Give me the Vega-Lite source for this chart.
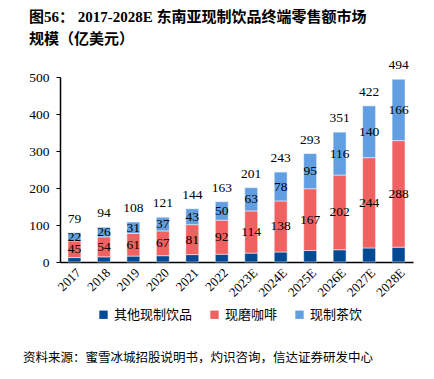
{
  "$schema": "https://vega.github.io/schema/vega-lite/v6.json",
  "background": "white",
  "padding": {"left": 23, "right": 9, "top": 10, "bottom": 5},
  "title": {
    "text": ["图56： 2017-2028E 东南亚现制饮品终端零售额市场", "规模（亿美元）"],
    "anchor": "start",
    "font": "Liberation Serif, Noto Sans CJK SC",
    "fontSize": 15,
    "fontWeight": "bold",
    "lineHeight": 22,
    "color": "#000000",
    "offset": 8,
    "dx": 6
  },
  "datasets": {
    "segments": [
      {"year": "2017", "type": "其他现制饮品", "value": 12},
      {"year": "2017", "type": "现磨咖啡", "value": 45},
      {"year": "2017", "type": "现制茶饮", "value": 22},
      {"year": "2018", "type": "其他现制饮品", "value": 14},
      {"year": "2018", "type": "现磨咖啡", "value": 54},
      {"year": "2018", "type": "现制茶饮", "value": 26},
      {"year": "2019", "type": "其他现制饮品", "value": 16},
      {"year": "2019", "type": "现磨咖啡", "value": 61},
      {"year": "2019", "type": "现制茶饮", "value": 31},
      {"year": "2020", "type": "其他现制饮品", "value": 17},
      {"year": "2020", "type": "现磨咖啡", "value": 67},
      {"year": "2020", "type": "现制茶饮", "value": 37},
      {"year": "2021", "type": "其他现制饮品", "value": 20},
      {"year": "2021", "type": "现磨咖啡", "value": 81},
      {"year": "2021", "type": "现制茶饮", "value": 43},
      {"year": "2022", "type": "其他现制饮品", "value": 21},
      {"year": "2022", "type": "现磨咖啡", "value": 92},
      {"year": "2022", "type": "现制茶饮", "value": 50},
      {"year": "2023E", "type": "其他现制饮品", "value": 24},
      {"year": "2023E", "type": "现磨咖啡", "value": 114},
      {"year": "2023E", "type": "现制茶饮", "value": 63},
      {"year": "2024E", "type": "其他现制饮品", "value": 27},
      {"year": "2024E", "type": "现磨咖啡", "value": 138},
      {"year": "2024E", "type": "现制茶饮", "value": 78},
      {"year": "2025E", "type": "其他现制饮品", "value": 31},
      {"year": "2025E", "type": "现磨咖啡", "value": 167},
      {"year": "2025E", "type": "现制茶饮", "value": 95},
      {"year": "2026E", "type": "其他现制饮品", "value": 33},
      {"year": "2026E", "type": "现磨咖啡", "value": 202},
      {"year": "2026E", "type": "现制茶饮", "value": 116},
      {"year": "2027E", "type": "其他现制饮品", "value": 38},
      {"year": "2027E", "type": "现磨咖啡", "value": 244},
      {"year": "2027E", "type": "现制茶饮", "value": 140},
      {"year": "2028E", "type": "其他现制饮品", "value": 40},
      {"year": "2028E", "type": "现磨咖啡", "value": 288},
      {"year": "2028E", "type": "现制茶饮", "value": 166}
    ],
    "totals": [
      {"year": "2017", "total": 79},
      {"year": "2018", "total": 94},
      {"year": "2019", "total": 108},
      {"year": "2020", "total": 121},
      {"year": "2021", "total": 144},
      {"year": "2022", "total": 163},
      {"year": "2023E", "total": 201},
      {"year": "2024E", "total": 243},
      {"year": "2025E", "total": 293},
      {"year": "2026E", "total": 351},
      {"year": "2027E", "total": 422},
      {"year": "2028E", "total": 494}
    ],
    "divider": [{"start": 0, "end": 1}]
  },
  "config": {
    "font": "Liberation Serif, Noto Sans CJK SC",
    "view": {"stroke": null},
    "axis": {
      "domain": true,
      "domainColor": "#000000",
      "domainWidth": 1.5,
      "grid": false,
      "labelFont": "Liberation Serif",
      "labelColor": "#000000",
      "title": null
    },
    "axisY": {
      "ticks": true,
      "tickColor": "#000000",
      "tickSize": 4,
      "labelFontSize": 13.5,
      "labelPadding": 7,
      "labelOverlap": false
    },
    "axisX": {
      "ticks": false,
      "labelAngle": -45,
      "labelFontSize": 13,
      "labelPadding": 4
    }
  },
  "spacing": 1,
  "resolve": {"legend": {"color": "independent"}, "scale": {"x": "independent", "y": "independent", "color": "independent"}},
  "vconcat": [
    {
      "width": 353,
      "height": 2,
      "data": {"name": "divider"},
      "mark": {"type": "bar", "fill": "#707070", "opacity": 1},
      "encoding": {
        "x": {"field": "start", "type": "quantitative", "scale": {"domain": [0, 1], "nice": false}, "axis": null},
        "x2": {"field": "end"},
        "color": {"value": "#707070"}
      }
    },
    {
      "width": 353,
      "height": 185,
      "encoding": {
        "x": {
          "field": "year",
          "type": "nominal",
          "sort": null,
          "scale": {"paddingInner": 0.56, "paddingOuter": 0.27},
          "axis": {"title": null}
        }
      },
      "layer": [
        {
          "data": {"name": "segments"},
          "transform": [
            {"calculate": "indexof(['其他现制饮品','现磨咖啡','现制茶饮'], datum.type)", "as": "ord"},
            {"stack": "value", "groupby": ["year"], "sort": [{"field": "ord", "order": "ascending"}], "as": ["v0", "v1"]}
          ],
          "mark": {"type": "bar", "stroke": "#ffffff", "strokeOpacity": 0.5, "strokeWidth": 1},
          "encoding": {
            "y": {
              "field": "v1",
              "type": "quantitative",
              "scale": {"domain": [0, 500], "nice": false},
              "axis": {"title": null, "values": [0, 100, 200, 300, 400, 500]}
            },
            "y2": {"field": "v0"},
            "color": {
              "field": "type",
              "type": "nominal",
              "scale": {
                "domain": ["其他现制饮品", "现磨咖啡", "现制茶饮"],
                "range": ["#024a94", "#f06262", "#629fe2"]
              },
              "legend": {
                "title": null,
                "orient": "none",
                "legendX": 15,
                "legendY": 209,
                "padding": 22,
                "direction": "horizontal",
                "symbolType": "square",
                "symbolSize": 70,
                "symbolStrokeWidth": 0,
                "labelFont": "Noto Sans CJK SC",
                "labelFontSize": 13,
                "labelColor": "#000000",
                "columnPadding": 15
              }
            }
          }
        },
        {
          "data": {"name": "segments"},
          "transform": [
            {"calculate": "indexof(['其他现制饮品','现磨咖啡','现制茶饮'], datum.type)", "as": "ord"},
            {"stack": "value", "groupby": ["year"], "sort": [{"field": "ord", "order": "ascending"}], "as": ["v0", "v1"]},
            {"filter": "datum.type !== '其他现制饮品'"},
            {"calculate": "(datum.v0 + datum.v1) / 2", "as": "v1"}
          ],
          "mark": {"type": "text", "fontSize": 13.5, "font": "Liberation Serif", "color": "#000000", "baseline": "middle"},
          "encoding": {
            "y": {"field": "v1", "type": "quantitative", "axis": {"title": null, "values": [0, 100, 200, 300, 400, 500]}},
            "text": {"field": "value", "type": "quantitative"}
          }
        },
        {
          "data": {"name": "totals"},
          "mark": {"type": "text", "fontSize": 13.5, "font": "Liberation Serif", "color": "#000000", "baseline": "middle", "dy": -14},
          "encoding": {
            "y": {"field": "total", "type": "quantitative", "axis": {"title": null, "values": [0, 100, 200, 300, 400, 500]}},
            "text": {"field": "total", "type": "quantitative"}
          }
        }
      ]
    },
    {
      "width": 353,
      "height": 2,
      "data": {"name": "divider"},
      "mark": {"type": "bar", "fill": "#707070", "opacity": 1},
      "encoding": {
        "x": {"field": "start", "type": "quantitative", "scale": {"domain": [0, 1], "nice": false}, "axis": null},
        "x2": {"field": "end"},
        "color": {"value": "#707070"}
      },
      "title": {
        "text": "资料来源：蜜雪冰城招股说明书，灼识咨询，信达证券研发中心",
        "orient": "bottom",
        "anchor": "start",
        "font": "Noto Sans CJK SC",
        "fontSize": 12.5,
        "fontWeight": "normal",
        "color": "#000000",
        "offset": 5,
        "dx": -37
      }
    }
  ]
}
